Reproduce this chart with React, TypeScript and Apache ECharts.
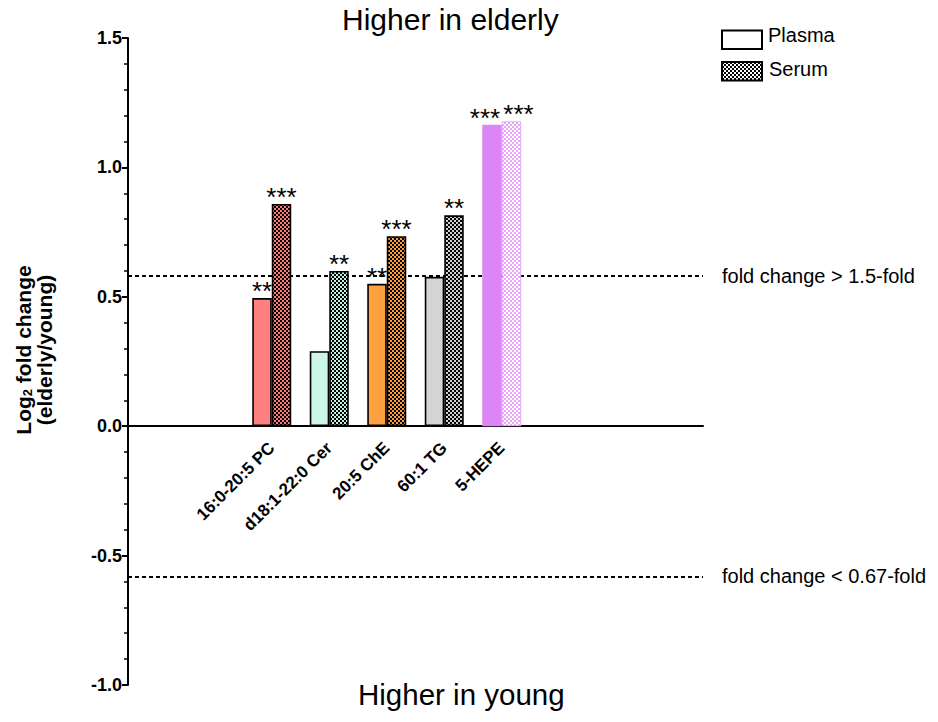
import React, { useEffect, useRef } from "react";
import * as echarts from "echarts";

const categories = ["", "", "16:0-20:5 PC", "d18:1-22:0 Cer", "20:5 ChE", "60:1 TG", "5-HEPE", "", "", ""];
const plasmaValues: (number | null)[] = [null, null, 0.495, 0.29, 0.55, 0.577, 1.165, null, null, null];
const serumValues: (number | null)[] = [null, null, 0.859, 0.6, 0.734, 0.815, 1.178, null, null, null];
const plasmaStars = ["", "", "**", "", "**", "", "***", "", "", ""];
const serumStars = ["", "", "***", "**", "***", "**", "***", "", "", ""];
const thresholdUp = 0.585;
const thresholdDown = -0.578;
const thresholdLabels = ["fold change > 1.5-fold", "fold change < 0.67-fold"];
const yMin = -1;
const yMax = 1.5;

const plasmaColors = ["", "", "#ff8080", "#ccf7e6", "#ffa040", "#d4d4d4", "#dc86f6", "", "", ""];
const serumBase = ["", "", "#ff7a7a", "#c4f0e0", "#ff9c38", "#d0d0d0", "#e9a6f8", "", "", ""];
const serumDots = ["", "", "#000000", "#000000", "#000000", "#000000", "#ffffff", "", "", ""];

const FONT = "'Liberation Sans', Arial, Helvetica, sans-serif";
const GRID = { left: 128, right: 235, top: 38, bottom: 37 };

function checker(base: string, dot: string, cell = 2) {
  const c = document.createElement("canvas");
  c.width = cell * 2;
  c.height = cell * 2;
  const ctx = c.getContext("2d")!;
  ctx.fillStyle = base;
  ctx.fillRect(0, 0, cell * 2, cell * 2);
  ctx.fillStyle = dot;
  ctx.fillRect(0, 0, cell, cell);
  ctx.fillRect(cell, cell, cell, cell);
  return { image: c, repeat: "repeat" as const };
}

export default function App() {
  const ref = useRef<HTMLDivElement>(null);
  useEffect(() => {
    if (!ref.current) return;
    const chart = echarts.init(ref.current, undefined, { renderer: "svg" });
    const isHepe = (i: number) => categories[i] === "5-HEPE";
    const plotH = 722 - GRID.top - GRID.bottom;
    const zeroOffset = (plotH * (0 - yMin)) / (yMax - yMin);

    const starLabel = (stars: string[], i: number, dx: number) => ({
      show: !!stars[i],
      position: "top",
      distance: -6,
      offset: [isHepe(i) ? dx : 0, 0],
      fontSize: 26,
      fontFamily: FONT,
      color: "#000",
      formatter: stars[i] || "",
    });

    const plasmaData = plasmaValues.map((v, i) =>
      v == null
        ? "-"
        : {
            value: v,
            label: starLabel(plasmaStars, i, -7),
            itemStyle: {
              color: plasmaColors[i],
              borderColor: isHepe(i) ? plasmaColors[i] : "#000",
              borderWidth: isHepe(i) ? 0 : 1.6,
            },
          }
    );
    const serumData = serumValues.map((v, i) =>
      v == null
        ? "-"
        : {
            value: v,
            label: starLabel(serumStars, i, 7),
            itemStyle: {
              color: checker(serumBase[i], serumDots[i]),
              borderColor: isHepe(i) ? "#e9a6f8" : "#000",
              borderWidth: isHepe(i) ? 1 : 1.6,
            },
          }
    );

    chart.setOption({
      animation: false,
      grid: { ...GRID, containLabel: false, outerBoundsMode: "none" },
      xAxis: {
        type: "category",
        data: categories,
        offset: -zeroOffset,
        axisTick: { show: false },
        axisLine: { onZero: false, lineStyle: { color: "#000", width: 2 } },
        axisLabel: {
          interval: 0,
          rotate: 45,
          margin: 19,
          fontSize: 17,
          fontWeight: "bold",
          fontFamily: FONT,
          color: "#000",
        },
      },
      yAxis: {
        type: "value",
        min: yMin,
        max: yMax,
        interval: 0.5,
        splitLine: { show: false },
        axisLine: { show: true, lineStyle: { color: "#000", width: 2 } },
        axisTick: { show: true, length: 6, lineStyle: { color: "#000", width: 2 } },
        minorTick: { show: true, splitNumber: 5, length: 4, lineStyle: { color: "#000", width: 1.5 } },
        axisLabel: {
          margin: 6,
          fontSize: 18,
          fontWeight: "bold",
          fontFamily: FONT,
          color: "#000",
          formatter: (v: number) => v.toFixed(1),
        },
      },
      series: [
        {
          type: "bar",
          name: "Plasma",
          barWidth: 19.5,
          barGap: "0%",
          data: plasmaData,
          markLine: {
            silent: true,
            symbol: "none",
            z: 1,
            lineStyle: { type: [4, 3], color: "#000", width: 2 },
            label: {
              show: true,
              position: "end",
              distance: 19,
              fontSize: 20,
              fontFamily: FONT,
              color: "#000",
            },
            data: [
              { yAxis: thresholdUp, label: { formatter: thresholdLabels[0] } },
              { yAxis: thresholdDown, label: { formatter: thresholdLabels[1] } },
            ],
          },
        },
        {
          type: "bar",
          name: "Serum",
          barWidth: 19.5,
          barGap: "0%",
          data: serumData,
        },
      ],
      graphic: [
        {
          type: "text",
          left: 342,
          top: 4,
          style: { text: "Higher in elderly", fontSize: 30, fontFamily: FONT, fill: "#000" },
        },
        {
          type: "text",
          left: 358,
          top: 679,
          style: { text: "Higher in young", fontSize: 29.5, fontFamily: FONT, fill: "#000" },
        },
        {
          type: "text",
          x: 34,
          y: 350,
          rotation: Math.PI / 2,
          style: {
            text: "Log{s|2} fold change\n(elderly/young)",
            fontSize: 21,
            fontWeight: "bold",
            fontFamily: FONT,
            fill: "#000",
            align: "center",
            verticalAlign: "middle",
            lineHeight: 21,
            rich: {
              s: { fontSize: 13, fontWeight: "bold", fontFamily: FONT, verticalAlign: "bottom", lineHeight: 13 },
            },
          },
        },
        {
          type: "rect",
          shape: { x: 722, y: 30.5, width: 40, height: 18.5 },
          style: { fill: "#fff", stroke: "#000", lineWidth: 2 },
        },
        {
          type: "rect",
          shape: { x: 722, y: 62, width: 40, height: 18.5 },
          style: { fill: checker("#ffffff", "#000000"), stroke: "#000", lineWidth: 2 },
        },
        {
          type: "text",
          x: 768,
          y: 35,
          style: { text: "Plasma", fontSize: 20, fontFamily: FONT, fill: "#000", verticalAlign: "middle" },
        },
        {
          type: "text",
          x: 769,
          y: 69,
          style: { text: "Serum", fontSize: 20, fontFamily: FONT, fill: "#000", verticalAlign: "middle" },
        },
      ],
    });
    return () => chart.dispose();
  }, []);
  return (
    <div
      ref={ref}
      style={{ position: "absolute", left: 0, top: 0, width: 938, height: 722, background: "#fff" }}
    />
  );
}
